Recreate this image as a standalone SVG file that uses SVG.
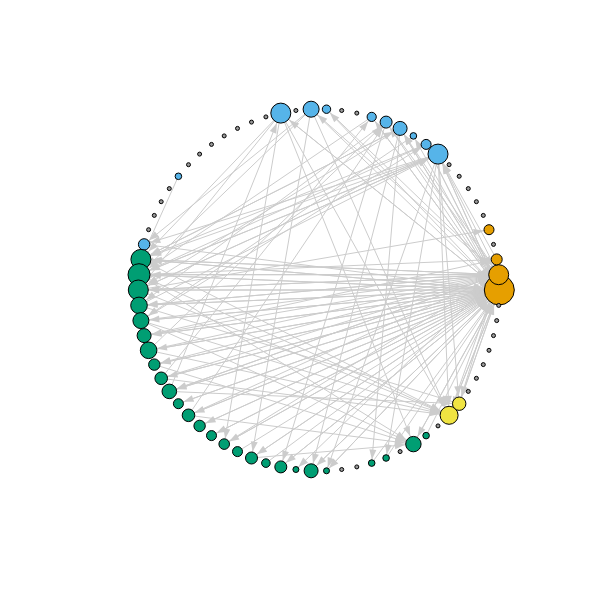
<svg xmlns="http://www.w3.org/2000/svg" width="600" height="600" viewBox="0 0 600 600">
<style>
.e line{stroke:#cccccc;stroke-width:1;fill:none}
.a3{marker-end:url(#m3)}.a4{marker-end:url(#m4)}.a5{marker-end:url(#m5)}.a6{marker-end:url(#m6)}.a7{marker-end:url(#m7)}.a8{marker-end:url(#m8)}.a9{marker-end:url(#m9)}.a10{marker-end:url(#m10)}.a11{marker-end:url(#m11)}.a15{marker-end:url(#m15)}
circle{stroke:#000000;stroke-width:1}
.o{fill:#E69F00}.b{fill:#56B4E9}.g{fill:#009E73}.y{fill:#F0E442}.d{fill:#999999}
</style>
<defs>
<path id="ah" d="M0,0L10,3.5L0,7z" fill="#cccccc"/>
<marker id="m3" markerUnits="userSpaceOnUse" markerWidth="11" markerHeight="8" refX="13.5" refY="3.5" orient="auto" overflow="visible"><use href="#ah"/></marker>
<marker id="m4" markerUnits="userSpaceOnUse" markerWidth="11" markerHeight="8" refX="14.8" refY="3.5" orient="auto" overflow="visible"><use href="#ah"/></marker>
<marker id="m5" markerUnits="userSpaceOnUse" markerWidth="11" markerHeight="8" refX="15.5" refY="3.5" orient="auto" overflow="visible"><use href="#ah"/></marker>
<marker id="m6" markerUnits="userSpaceOnUse" markerWidth="11" markerHeight="8" refX="16.5" refY="3.5" orient="auto" overflow="visible"><use href="#ah"/></marker>
<marker id="m7" markerUnits="userSpaceOnUse" markerWidth="11" markerHeight="8" refX="17.5" refY="3.5" orient="auto" overflow="visible"><use href="#ah"/></marker>
<marker id="m8" markerUnits="userSpaceOnUse" markerWidth="11" markerHeight="8" refX="18.5" refY="3.5" orient="auto" overflow="visible"><use href="#ah"/></marker>
<marker id="m9" markerUnits="userSpaceOnUse" markerWidth="11" markerHeight="8" refX="19.5" refY="3.5" orient="auto" overflow="visible"><use href="#ah"/></marker>
<marker id="m10" markerUnits="userSpaceOnUse" markerWidth="11" markerHeight="8" refX="20.8" refY="3.5" orient="auto" overflow="visible"><use href="#ah"/></marker>
<marker id="m11" markerUnits="userSpaceOnUse" markerWidth="11" markerHeight="8" refX="21.5" refY="3.5" orient="auto" overflow="visible"><use href="#ah"/></marker>
<marker id="m15" markerUnits="userSpaceOnUse" markerWidth="11" markerHeight="8" refX="25.5" refY="3.5" orient="auto" overflow="visible"><use href="#ah"/></marker>
</defs>
<rect width="600" height="600" fill="#ffffff"/>
<g id="edges" class="e">
<line class="a15" x1="140.9" y1="259.4" x2="499.3" y2="290"/>
<line class="a15" x1="139" y1="274.7" x2="499.3" y2="290"/>
<line class="a15" x1="138.3" y1="290" x2="499.3" y2="290"/>
<line class="a15" x1="139" y1="305.4" x2="499.3" y2="290"/>
<line class="a15" x1="140.9" y1="320.6" x2="499.3" y2="290"/>
<line class="a15" x1="144.1" y1="335.6" x2="499.3" y2="290"/>
<line class="a15" x1="148.6" y1="350.3" x2="499.3" y2="290"/>
<line class="a15" x1="154.3" y1="364.6" x2="499.3" y2="290"/>
<line class="a15" x1="161.2" y1="378.3" x2="499.3" y2="290"/>
<line class="a15" x1="169.3" y1="391.4" x2="499.3" y2="290"/>
<line class="a15" x1="178.4" y1="403.7" x2="499.3" y2="290"/>
<line class="a15" x1="188.5" y1="415.3" x2="499.3" y2="290"/>
<line class="a15" x1="199.6" y1="425.9" x2="499.3" y2="290"/>
<line class="a15" x1="211.5" y1="435.6" x2="499.3" y2="290"/>
<line class="a15" x1="224.2" y1="444.1" x2="499.3" y2="290"/>
<line class="a15" x1="237.5" y1="451.6" x2="499.3" y2="290"/>
<line class="a15" x1="251.5" y1="458" x2="499.3" y2="290"/>
<line class="a15" x1="265.9" y1="463.1" x2="499.3" y2="290"/>
<line class="a15" x1="280.8" y1="466.9" x2="499.3" y2="290"/>
<line class="a15" x1="311.1" y1="470.8" x2="499.3" y2="290"/>
<line class="a15" x1="326.5" y1="470.8" x2="499.3" y2="290"/>
<line class="a15" x1="371.7" y1="463.1" x2="499.3" y2="290"/>
<line class="a15" x1="386.1" y1="458" x2="499.3" y2="290"/>
<line class="a15" x1="413.4" y1="444.1" x2="499.3" y2="290"/>
<line class="a15" x1="426.1" y1="435.6" x2="499.3" y2="290"/>
<line class="a15" x1="438" y1="154.1" x2="499.3" y2="290"/>
<line class="a15" x1="426.1" y1="144.4" x2="499.3" y2="290"/>
<line class="a15" x1="400.1" y1="128.4" x2="499.3" y2="290"/>
<line class="a15" x1="371.7" y1="116.9" x2="499.3" y2="290"/>
<line class="a15" x1="311.1" y1="109.2" x2="499.3" y2="290"/>
<line class="a15" x1="280.8" y1="113.1" x2="499.3" y2="290"/>
<line class="a15" x1="144.1" y1="244.4" x2="499.3" y2="290"/>
<line class="a15" x1="449.1" y1="415.3" x2="499.3" y2="290"/>
<line class="a15" x1="459.2" y1="403.7" x2="499.3" y2="290"/>
<line class="a10" x1="140.9" y1="259.4" x2="498.7" y2="274.7"/>
<line class="a10" x1="139" y1="274.7" x2="498.7" y2="274.7"/>
<line class="a10" x1="138.3" y1="290" x2="498.7" y2="274.7"/>
<line class="a10" x1="139" y1="305.4" x2="498.7" y2="274.7"/>
<line class="a10" x1="140.9" y1="320.6" x2="498.7" y2="274.7"/>
<line class="a10" x1="148.6" y1="350.3" x2="498.7" y2="274.7"/>
<line class="a10" x1="161.2" y1="378.3" x2="498.7" y2="274.7"/>
<line class="a10" x1="169.3" y1="391.4" x2="498.7" y2="274.7"/>
<line class="a10" x1="188.5" y1="415.3" x2="498.7" y2="274.7"/>
<line class="a10" x1="224.2" y1="444.1" x2="498.7" y2="274.7"/>
<line class="a10" x1="386.1" y1="122.1" x2="498.7" y2="274.7"/>
<line class="a10" x1="326.5" y1="109.2" x2="498.7" y2="274.7"/>
<line class="a10" x1="449.1" y1="415.3" x2="498.7" y2="274.7"/>
<line class="a6" x1="139" y1="274.7" x2="496.7" y2="259.4"/>
<line class="a6" x1="144.1" y1="335.6" x2="496.7" y2="259.4"/>
<line class="a5" x1="138.3" y1="290" x2="489" y2="229.7"/>
<line class="a10" x1="499.3" y1="290" x2="438" y2="154.1"/>
<line class="a10" x1="498.7" y1="274.7" x2="438" y2="154.1"/>
<line class="a10" x1="496.7" y1="259.4" x2="438" y2="154.1"/>
<line class="a10" x1="139" y1="274.7" x2="438" y2="154.1"/>
<line class="a10" x1="138.3" y1="290" x2="438" y2="154.1"/>
<line class="a10" x1="139" y1="305.4" x2="438" y2="154.1"/>
<line class="a5" x1="499.3" y1="290" x2="426.1" y2="144.4"/>
<line class="a5" x1="140.9" y1="320.6" x2="426.1" y2="144.4"/>
<line class="a3" x1="499.3" y1="290" x2="413.4" y2="135.9"/>
<line class="a7" x1="499.3" y1="290" x2="400.1" y2="128.4"/>
<line class="a7" x1="498.7" y1="274.7" x2="400.1" y2="128.4"/>
<line class="a7" x1="140.9" y1="259.4" x2="400.1" y2="128.4"/>
<line class="a6" x1="499.3" y1="290" x2="386.1" y2="122.1"/>
<line class="a6" x1="148.6" y1="350.3" x2="386.1" y2="122.1"/>
<line class="a6" x1="188.5" y1="415.3" x2="386.1" y2="122.1"/>
<line class="a5" x1="499.3" y1="290" x2="371.7" y2="116.9"/>
<line class="a5" x1="161.2" y1="378.3" x2="371.7" y2="116.9"/>
<line class="a4" x1="499.3" y1="290" x2="326.5" y2="109.2"/>
<line class="a8" x1="498.7" y1="274.7" x2="311.1" y2="109.2"/>
<line class="a10" x1="499.3" y1="290" x2="280.8" y2="113.1"/>
<line class="a10" x1="169.3" y1="391.4" x2="280.8" y2="113.1"/>
<line class="a6" x1="311.1" y1="109.2" x2="144.1" y2="244.4"/>
<line class="a6" x1="438" y1="154.1" x2="144.1" y2="244.4"/>
<line class="a10" x1="499.3" y1="290" x2="140.9" y2="259.4"/>
<line class="a10" x1="498.7" y1="274.7" x2="140.9" y2="259.4"/>
<line class="a10" x1="438" y1="154.1" x2="140.9" y2="259.4"/>
<line class="a10" x1="426.1" y1="144.4" x2="140.9" y2="259.4"/>
<line class="a10" x1="400.1" y1="128.4" x2="140.9" y2="259.4"/>
<line class="a10" x1="280.8" y1="113.1" x2="140.9" y2="259.4"/>
<line class="a10" x1="178.4" y1="176.3" x2="140.9" y2="259.4"/>
<line class="a11" x1="499.3" y1="290" x2="139" y2="274.7"/>
<line class="a11" x1="498.7" y1="274.7" x2="139" y2="274.7"/>
<line class="a11" x1="438" y1="154.1" x2="139" y2="274.7"/>
<line class="a11" x1="426.1" y1="144.4" x2="139" y2="274.7"/>
<line class="a11" x1="371.7" y1="116.9" x2="139" y2="274.7"/>
<line class="a11" x1="311.1" y1="109.2" x2="139" y2="274.7"/>
<line class="a10" x1="499.3" y1="290" x2="138.3" y2="290"/>
<line class="a10" x1="498.7" y1="274.7" x2="138.3" y2="290"/>
<line class="a10" x1="438" y1="154.1" x2="138.3" y2="290"/>
<line class="a10" x1="400.1" y1="128.4" x2="138.3" y2="290"/>
<line class="a10" x1="280.8" y1="113.1" x2="138.3" y2="290"/>
<line class="a8" x1="499.3" y1="290" x2="139" y2="305.4"/>
<line class="a8" x1="498.7" y1="274.7" x2="139" y2="305.4"/>
<line class="a8" x1="386.1" y1="122.1" x2="139" y2="305.4"/>
<line class="a8" x1="499.3" y1="290" x2="140.9" y2="320.6"/>
<line class="a8" x1="413.4" y1="135.9" x2="140.9" y2="320.6"/>
<line class="a7" x1="499.3" y1="290" x2="144.1" y2="335.6"/>
<line class="a7" x1="498.7" y1="274.7" x2="144.1" y2="335.6"/>
<line class="a8" x1="499.3" y1="290" x2="148.6" y2="350.3"/>
<line class="a6" x1="499.3" y1="290" x2="154.3" y2="364.6"/>
<line class="a6" x1="498.7" y1="274.7" x2="154.3" y2="364.6"/>
<line class="a6" x1="499.3" y1="290" x2="161.2" y2="378.3"/>
<line class="a7" x1="499.3" y1="290" x2="169.3" y2="391.4"/>
<line class="a7" x1="498.7" y1="274.7" x2="169.3" y2="391.4"/>
<line class="a5" x1="499.3" y1="290" x2="178.4" y2="403.7"/>
<line class="a6" x1="499.3" y1="290" x2="188.5" y2="415.3"/>
<line class="a6" x1="499.3" y1="290" x2="199.6" y2="425.9"/>
<line class="a5" x1="499.3" y1="290" x2="211.5" y2="435.6"/>
<line class="a5" x1="499.3" y1="290" x2="224.2" y2="444.1"/>
<line class="a5" x1="280.8" y1="113.1" x2="224.2" y2="444.1"/>
<line class="a6" x1="499.3" y1="290" x2="251.5" y2="458"/>
<line class="a6" x1="311.1" y1="109.2" x2="251.5" y2="458"/>
<line class="a6" x1="499.3" y1="290" x2="280.8" y2="466.9"/>
<line class="a6" x1="386.1" y1="122.1" x2="280.8" y2="466.9"/>
<line class="a3" x1="498.7" y1="274.7" x2="295.9" y2="469.5"/>
<line class="a7" x1="499.3" y1="290" x2="311.1" y2="470.8"/>
<line class="a7" x1="400.1" y1="128.4" x2="311.1" y2="470.8"/>
<line class="a3" x1="499.3" y1="290" x2="326.5" y2="470.8"/>
<line class="a3" x1="438" y1="154.1" x2="326.5" y2="470.8"/>
<line class="a3" x1="400.1" y1="128.4" x2="371.7" y2="463.1"/>
<line class="a3" x1="438" y1="154.1" x2="386.1" y2="458"/>
<line class="a8" x1="139" y1="274.7" x2="413.4" y2="444.1"/>
<line class="a8" x1="140.9" y1="320.6" x2="413.4" y2="444.1"/>
<line class="a8" x1="154.3" y1="364.6" x2="413.4" y2="444.1"/>
<line class="a8" x1="499.3" y1="290" x2="413.4" y2="444.1"/>
<line class="a8" x1="280.8" y1="113.1" x2="413.4" y2="444.1"/>
<line class="a8" x1="188.5" y1="415.3" x2="413.4" y2="444.1"/>
<line class="a8" x1="251.5" y1="458" x2="413.4" y2="444.1"/>
<line class="a9" x1="140.9" y1="259.4" x2="449.1" y2="415.3"/>
<line class="a9" x1="139" y1="274.7" x2="449.1" y2="415.3"/>
<line class="a9" x1="138.3" y1="290" x2="449.1" y2="415.3"/>
<line class="a9" x1="140.9" y1="320.6" x2="449.1" y2="415.3"/>
<line class="a9" x1="148.6" y1="350.3" x2="449.1" y2="415.3"/>
<line class="a9" x1="161.2" y1="378.3" x2="449.1" y2="415.3"/>
<line class="a9" x1="280.8" y1="113.1" x2="449.1" y2="415.3"/>
<line class="a9" x1="311.1" y1="109.2" x2="449.1" y2="415.3"/>
<line class="a9" x1="438" y1="154.1" x2="449.1" y2="415.3"/>
<line class="a9" x1="499.3" y1="290" x2="449.1" y2="415.3"/>
<line class="a7" x1="499.3" y1="290" x2="459.2" y2="403.7"/>
<line class="a7" x1="498.7" y1="274.7" x2="459.2" y2="403.7"/>
<line class="a7" x1="438" y1="154.1" x2="459.2" y2="403.7"/>
<line class="a7" x1="169.3" y1="391.4" x2="459.2" y2="403.7"/>
<line class="a7" x1="139" y1="305.4" x2="459.2" y2="403.7"/>
</g>
<g id="n1"><circle class="o" cx="499.3" cy="290" r="15"/></g>
<g id="n2"><circle class="o" cx="498.7" cy="274.7" r="10"/></g>
<g id="n3"><circle class="o" cx="496.7" cy="259.4" r="5.5"/></g>
<g id="n4"><circle class="d" cx="493.5" cy="244.4" r="2"/></g>
<g id="n5"><circle class="o" cx="489" cy="229.7" r="5"/></g>
<g id="n6"><circle class="d" cx="483.3" cy="215.4" r="2"/></g>
<g id="n7"><circle class="d" cx="476.4" cy="201.7" r="2"/></g>
<g id="n8"><circle class="d" cx="468.3" cy="188.6" r="2"/></g>
<g id="n9"><circle class="d" cx="459.2" cy="176.3" r="2"/></g>
<g id="n10"><circle class="d" cx="449.1" cy="164.7" r="2"/></g>
<g id="n11"><circle class="b" cx="438" cy="154.1" r="10"/></g>
<g id="n12"><circle class="b" cx="426.1" cy="144.4" r="5"/></g>
<g id="n13"><circle class="b" cx="413.4" cy="135.9" r="3.3"/></g>
<g id="n14"><circle class="b" cx="400.1" cy="128.4" r="7"/></g>
<g id="n15"><circle class="b" cx="386.1" cy="122.1" r="6"/></g>
<g id="n16"><circle class="b" cx="371.7" cy="116.9" r="4.6"/></g>
<g id="n17"><circle class="d" cx="356.8" cy="113.1" r="2"/></g>
<g id="n18"><circle class="d" cx="341.7" cy="110.5" r="2"/></g>
<g id="n19"><circle class="b" cx="326.5" cy="109.2" r="4.2"/></g>
<g id="n20"><circle class="b" cx="311.1" cy="109.2" r="8"/></g>
<g id="n21"><circle class="d" cx="295.9" cy="110.5" r="2"/></g>
<g id="n22"><circle class="b" cx="280.8" cy="113.1" r="10"/></g>
<g id="n23"><circle class="d" cx="265.9" cy="116.9" r="2"/></g>
<g id="n24"><circle class="d" cx="251.5" cy="122.1" r="2"/></g>
<g id="n25"><circle class="d" cx="237.5" cy="128.4" r="2"/></g>
<g id="n26"><circle class="d" cx="224.2" cy="135.9" r="2"/></g>
<g id="n27"><circle class="d" cx="211.5" cy="144.4" r="2"/></g>
<g id="n28"><circle class="d" cx="199.6" cy="154.1" r="2"/></g>
<g id="n29"><circle class="d" cx="188.5" cy="164.7" r="2"/></g>
<g id="n30"><circle class="b" cx="178.4" cy="176.3" r="3.3"/></g>
<g id="n31"><circle class="d" cx="169.3" cy="188.6" r="2"/></g>
<g id="n32"><circle class="d" cx="161.2" cy="201.7" r="2"/></g>
<g id="n33"><circle class="d" cx="154.3" cy="215.4" r="2"/></g>
<g id="n34"><circle class="d" cx="148.6" cy="229.7" r="2"/></g>
<g id="n35"><circle class="b" cx="144.1" cy="244.4" r="5.7"/></g>
<g id="n36"><circle class="g" cx="140.9" cy="259.4" r="10"/></g>
<g id="n37"><circle class="g" cx="139" cy="274.7" r="11"/></g>
<g id="n38"><circle class="g" cx="138.3" cy="290" r="10"/></g>
<g id="n39"><circle class="g" cx="139" cy="305.4" r="8.3"/></g>
<g id="n40"><circle class="g" cx="140.9" cy="320.6" r="8"/></g>
<g id="n41"><circle class="g" cx="144.1" cy="335.6" r="7"/></g>
<g id="n42"><circle class="g" cx="148.6" cy="350.3" r="8.3"/></g>
<g id="n43"><circle class="g" cx="154.3" cy="364.6" r="5.7"/></g>
<g id="n44"><circle class="g" cx="161.2" cy="378.3" r="6.3"/></g>
<g id="n45"><circle class="g" cx="169.3" cy="391.4" r="7.3"/></g>
<g id="n46"><circle class="g" cx="178.4" cy="403.7" r="5"/></g>
<g id="n47"><circle class="g" cx="188.5" cy="415.3" r="6.3"/></g>
<g id="n48"><circle class="g" cx="199.6" cy="425.9" r="5.7"/></g>
<g id="n49"><circle class="g" cx="211.5" cy="435.6" r="5"/></g>
<g id="n50"><circle class="g" cx="224.2" cy="444.1" r="5.3"/></g>
<g id="n51"><circle class="g" cx="237.5" cy="451.6" r="5"/></g>
<g id="n52"><circle class="g" cx="251.5" cy="458" r="6"/></g>
<g id="n53"><circle class="g" cx="265.9" cy="463.1" r="4.3"/></g>
<g id="n54"><circle class="g" cx="280.8" cy="466.9" r="6"/></g>
<g id="n55"><circle class="g" cx="295.9" cy="469.5" r="3"/></g>
<g id="n56"><circle class="g" cx="311.1" cy="470.8" r="7"/></g>
<g id="n57"><circle class="g" cx="326.5" cy="470.8" r="3"/></g>
<g id="n58"><circle class="d" cx="341.7" cy="469.5" r="2"/></g>
<g id="n59"><circle class="d" cx="356.8" cy="466.9" r="2"/></g>
<g id="n60"><circle class="g" cx="371.7" cy="463.1" r="3.3"/></g>
<g id="n61"><circle class="g" cx="386.1" cy="458" r="3.3"/></g>
<g id="n62"><circle class="d" cx="400.1" cy="451.6" r="2"/></g>
<g id="n63"><circle class="g" cx="413.4" cy="444.1" r="7.7"/></g>
<g id="n64"><circle class="g" cx="426.1" cy="435.6" r="3.3"/></g>
<g id="n65"><circle class="d" cx="438" cy="425.9" r="2"/></g>
<g id="n66"><circle class="y" cx="449.1" cy="415.3" r="9"/></g>
<g id="n67"><circle class="y" cx="459.2" cy="403.7" r="6.7"/></g>
<g id="n68"><circle class="d" cx="468.3" cy="391.4" r="2"/></g>
<g id="n69"><circle class="d" cx="476.4" cy="378.3" r="2"/></g>
<g id="n70"><circle class="d" cx="483.3" cy="364.6" r="2"/></g>
<g id="n71"><circle class="d" cx="489" cy="350.3" r="2"/></g>
<g id="n72"><circle class="d" cx="493.5" cy="335.6" r="2"/></g>
<g id="n73"><circle class="d" cx="496.7" cy="320.6" r="2"/></g>
<g id="n74"><circle class="d" cx="498.7" cy="305.4" r="2"/></g>
</svg>
